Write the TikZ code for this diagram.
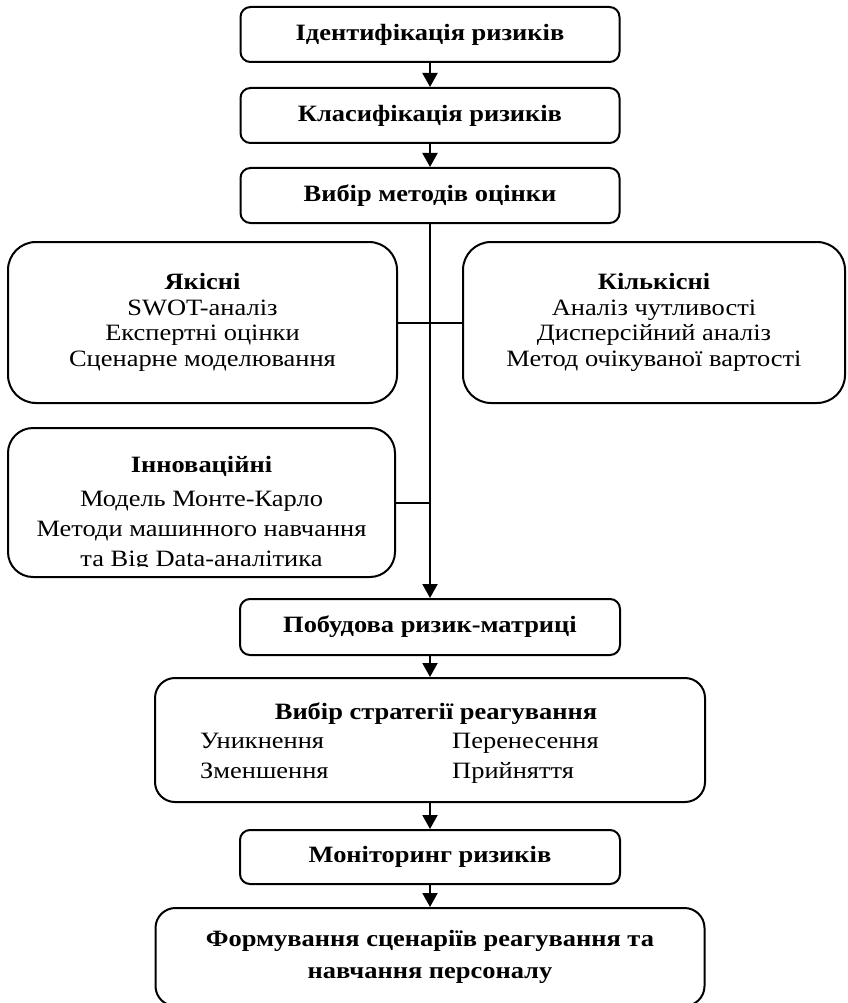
\documentclass[tikz,border=0pt]{standalone}
\usepackage{fontspec}
\setmainfont{Liberation Serif}[FakeStretch=1.13]
\usetikzlibrary{arrows.meta}
\begin{document}
\begin{tikzpicture}[x=1pt,y=-1pt,
  box/.style={draw, line width=2pt, rounded corners=#1, inner sep=0pt, align=center,
    font=\fontsize{23.4}{30}\selectfont},
  box/.default=10pt,
  txt/.style={inner sep=0pt, font=\fontsize{23.4}{30}\selectfont},
  arr/.style={line width=2pt, -{Triangle[width=15pt,length=14pt]}},
  conn/.style={line width=2pt}
]
\useasboundingbox (0,0) rectangle (847,1003);

% main chain
\node[box, minimum width=379, minimum height=55] (b1) at (430,34.5) {\textbf{Ідентифікація ризиків}};
\node[box, minimum width=379, minimum height=55] (b2) at (430,115.5) {\textbf{Класифікація ризиків}};
\node[box, minimum width=379, minimum height=55] (b3) at (430,195.5) {\textbf{Вибір методів оцінки}};

% method groups
\node[box=28pt, minimum width=389, minimum height=161, font=\fontsize{23.4}{25.5}\selectfont] (q) at (202.5,322.5)
  {\textbf{Якісні}\\SWOT-аналіз\\Експертні оцінки\\Сценарне моделювання};
\node[box=28pt, minimum width=382, minimum height=161, font=\fontsize{23.4}{25.5}\selectfont] (k) at (654,322.5)
  {\textbf{Кількісні}\\Аналіз чутливості\\Дисперсійний аналіз\\Метод очікуваної вартості};
\node[box=25pt, minimum width=387, minimum height=149] (inn) at (201.5,502.5) {};
\begin{scope}
  \clip (8,428) rectangle (395,566);
  \node[txt, align=center, font=\fontsize{23.4}{30}\selectfont] (innt) at (201.5,514)
    {\textbf{Інноваційні}\\[4pt]Модель Монте-Карло\\Методи машинного навчання\\та Big Data-аналітика};
\end{scope}

\node[box, minimum width=380, minimum height=56] (b4) at (430,627) {\textbf{Побудова ризик-матриці}};

\node[box=20pt, minimum width=550, minimum height=124] (b5) at (430,740) {};
\node[txt, anchor=base] (b5t) at (436,719) {\textbf{Вибір стратегії реагування}};
\node[txt, anchor=base west] (s1) at (200,748) {Уникнення};
\node[txt, anchor=base west] (s2) at (452,748) {Перенесення};
\node[txt, anchor=base west] (s3) at (200,778) {Зменшення};
\node[txt, anchor=base west] (s4) at (452,778) {Прийняття};

\node[box, minimum width=380, minimum height=54] (b6) at (430,857) {\textbf{Моніторинг ризиків}};
\node[box=20pt, minimum width=549, minimum height=98, font=\fontsize{23.4}{32}\selectfont] (b7) at (430,957)
  {\textbf{Формування сценаріїв реагування та}\\\textbf{навчання персоналу}};

% connectors
\draw[arr] (b1) -- (b2);
\draw[arr] (b2) -- (b3);
\draw[arr] (b3) -- (b4);
\draw[conn] (q) -- (k);
\draw[conn] (inn) -- (inn -| b3.south);
\draw[arr] (b4) -- (b5);
\draw[arr] (b5) -- (b6);
\draw[arr] (b6) -- (b7);
\end{tikzpicture}
\end{document}
